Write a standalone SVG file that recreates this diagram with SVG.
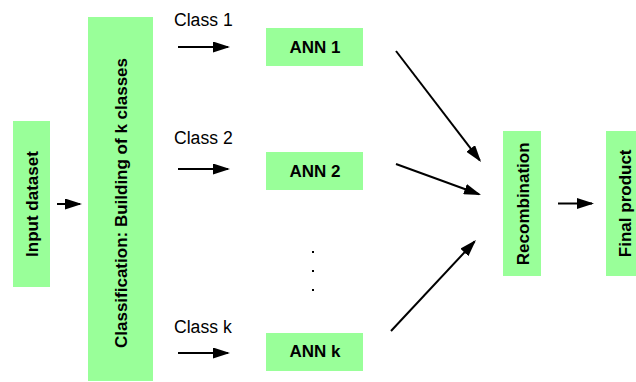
<svg xmlns="http://www.w3.org/2000/svg" width="636" height="382" viewBox="0 0 636 382">
  <style>
    .box { fill: #99ff99; }
    .lbl { font-family: "Liberation Sans", Arial, sans-serif; font-size: 17px; fill: #000; }
    .b { font-weight: bold; text-anchor: middle; }
    .cls { font-size: 17.6px; }
    .edge { stroke: #000; stroke-width: 2; fill: none; marker-end: url(#head); }
  </style>
  <defs>
    <marker id="head" markerUnits="userSpaceOnUse" markerWidth="17" markerHeight="11" refX="15" refY="5.5" orient="auto">
      <path d="M0,0 L17,5.5 L0,11 z" fill="#000"/>
    </marker>
  </defs>
  <rect width="636" height="382" fill="#fff"/>

  <g id="input">
    <rect class="box" x="13" y="121" width="37" height="166"/>
    <text class="lbl b" transform="translate(37.5,204) rotate(-90)">Input dataset</text>
  </g>

  <g id="classification">
    <rect class="box" x="88" y="17" width="65" height="364"/>
    <text class="lbl b" transform="translate(127,203) rotate(-90)">Classification: Building of k classes</text>
  </g>

  <g id="ann1">
    <rect class="box" x="266" y="28" width="97" height="38"/>
    <text class="lbl b" x="315" y="53.3">ANN 1</text>
  </g>

  <g id="ann2">
    <rect class="box" x="266" y="152" width="97" height="38"/>
    <text class="lbl b" x="315" y="177.3">ANN 2</text>
  </g>

  <g id="annk">
    <rect class="box" x="266" y="333" width="97" height="38"/>
    <text class="lbl b" x="315" y="357.3">ANN k</text>
  </g>

  <g id="recombination">
    <rect class="box" x="503" y="131" width="38" height="145"/>
    <text class="lbl b" transform="translate(528.7,203.8) rotate(-90)">Recombination</text>
  </g>

  <g id="final">
    <rect class="box" x="606" y="131" width="30" height="145"/>
    <text class="lbl b" transform="translate(631,203.3) rotate(-90)">Final product</text>
  </g>

  <g id="ellipsis" fill="#000">
    <rect x="312" y="251" width="2" height="2"/>
    <rect x="312" y="270" width="2" height="2"/>
    <rect x="312" y="289" width="2" height="2"/>
  </g>

  <g id="connectors">
    <line class="edge" x1="57" y1="204" x2="80" y2="204"/>
    <line class="edge" x1="178" y1="47" x2="228" y2="47"/>
    <line class="edge" x1="178" y1="169" x2="228" y2="169"/>
    <line class="edge" x1="178" y1="353" x2="228" y2="353"/>
    <line class="edge" x1="396" y1="51" x2="479.8" y2="160.4"/>
    <line class="edge" x1="396" y1="164" x2="479.1" y2="194.3"/>
    <line class="edge" x1="391" y1="331" x2="474.6" y2="241.5"/>
    <line class="edge" x1="558" y1="203.5" x2="592" y2="203.5"/>
    <text class="lbl cls" x="174" y="26">Class 1</text>
    <text class="lbl cls" x="174" y="144">Class 2</text>
    <text class="lbl cls" x="174" y="333">Class k</text>
  </g>
</svg>
